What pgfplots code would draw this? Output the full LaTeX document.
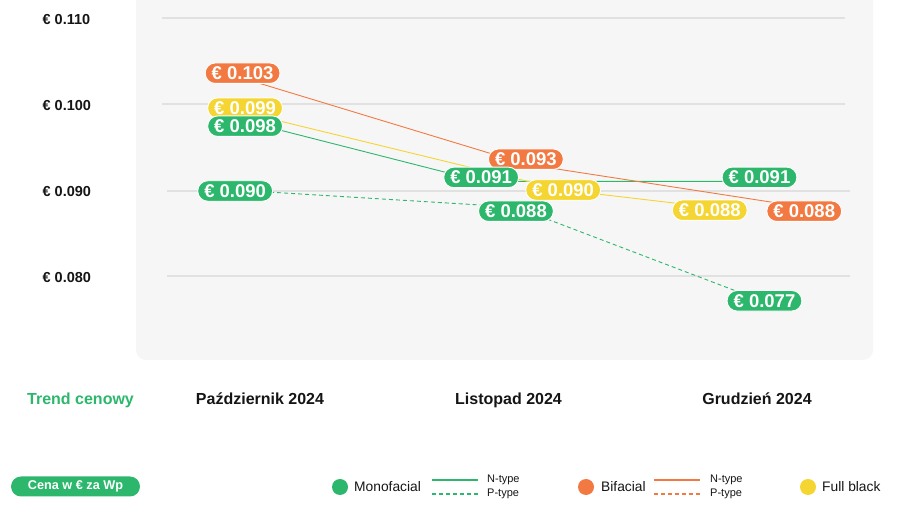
\documentclass[border=0pt]{standalone}
\usepackage{fontspec}
\setmainfont{Liberation Sans}
\usepackage{pgfplots}
\usepackage{pgfplotstable}
\pgfplotsset{compat=1.18}
\pgfplotsset{/pgf/number format/assume math mode=true}
\definecolor{cgreen}{HTML}{2CB76C}
\definecolor{corange}{HTML}{F27A42}
\definecolor{cyellow}{HTML}{F4D531}
\definecolor{cpanel}{HTML}{F6F6F6}
\definecolor{cgrid}{HTML}{E1E1E1}
\definecolor{ctext}{HTML}{151515}

% x: month index (0 = Oct, 1 = Nov, 2 = Dec) with the chart's own offsets; dy: label nudge in pt
\pgfplotstableread{
x y dy
-0.06 0.098 -5
0.89 0.091 4
2.01 0.091 4
}\monoN
\pgfplotstableread{
x y dy
-0.10 0.090 -1
1.03 0.088 -4
2.03 0.077 1
}\monoP
\pgfplotstableread{
x y dy
-0.07 0.103 5
1.07 0.093 5
2.19 0.088 -4
}\bifacial
\pgfplotstableread{
x y dy
-0.06 0.099 4.5
1.22 0.090 0
1.81 0.088 -3
}\fullblack

\tikzset{pill/.style={rounded corners=10pt, text=white, draw=white, line width=0.9pt,
  inner xsep=6.5pt, inner ysep=0pt,
  minimum height=20.5pt, text height=13pt, text depth=0pt, anchor=center,
  font=\fontsize{18.5}{20}\selectfont\bfseries}}

\begin{document}
\begin{tikzpicture}
\path[use as bounding box] (0,0) rectangle (900pt,527pt);
\begin{scope}[x=1pt,y=-1pt,yshift=527pt]
  \fill[cpanel, rounded corners=10pt] (136,-30) rectangle (873,360);
  \draw[cgrid, line width=1.6pt] (162,18) -- (845,18);
  \draw[cgrid, line width=1.6pt] (162,104) -- (845,104);
  \draw[cgrid, line width=1.6pt] (167,191) -- (850,191);
  \draw[cgrid, line width=1.6pt] (167,276) -- (850,276);
\end{scope}
\begin{axis}[
  at={(185.45pt,251pt)}, anchor=south west, scale only axis,
  width=646.1pt, height=258pt,
  xmin=-0.3, xmax=2.3, ymin=0.080, ymax=0.110,
  clip=false,
  axis line style={draw=none}, major tick length=0pt,
  xtick={0,1,2},
  xticklabels={Październik 2024, Listopad 2024, Grudzień 2024},
  xticklabel style={anchor=base, yshift=-129pt, inner sep=0pt, text=ctext,
    font=\fontsize{16}{19}\selectfont\bfseries},
  ytick={0.08,0.09,0.1,0.11},
  yticklabel={€ \pgfmathprintnumber[fixed,fixed zerofill,precision=3]{\tick}},
  yticklabel style={anchor=base west, xshift=-143pt, yshift=-6.5pt, inner sep=0pt, text=ctext,
    font=\fontsize{14.5}{17}\selectfont\bfseries},
  valuelabels/.style={draw=none, mark=none,
    visualization depends on={\thisrow{dy} \as \labdy},
    nodes near coords={€ \pgfmathprintnumber[fixed,fixed zerofill,precision=3]{\pgfplotspointmeta}},
    every node near coord/.append style={pill, fill=#1, yshift=\labdy pt}},
]
% lines
\addplot[cgreen, line width=0.9pt, mark=none] table[x=x,y=y] {\monoN};
\addplot[cgreen, line width=0.9pt, mark=none, dash pattern=on 4pt off 3pt] table[x=x,y=y] {\monoP};
\addplot[corange, line width=0.9pt, mark=none] table[x=x,y=y] {\bifacial};
\addplot[cyellow, line width=0.9pt, mark=none] table[x=x,y=y] {\fullblack};
% value labels
\addplot[valuelabels=cgreen] table[x=x,y=y] {\monoP};
\addplot[valuelabels=corange] table[x=x,y=y] {\bifacial};
\addplot[valuelabels=cyellow] table[x=x,y=y] {\fullblack};
\addplot[valuelabels=cgreen] table[x=x,y=y] {\monoN};
\end{axis}
\begin{scope}[x=1pt,y=-1pt,yshift=527pt]
  \node[anchor=base west, inner sep=0pt, text=cgreen, font=\fontsize{16}{19}\selectfont\bfseries] at (27,405) {Trend cenowy};
  % legend
  \node[fill=cgreen, rounded corners=10pt, text=white, minimum width=129pt, minimum height=20pt,
    inner sep=0pt, font=\fontsize{12.7}{14}\selectfont\bfseries] at (75.5,486.5) {Cena w € za Wp};
  \fill[cgreen] (340,487) circle (8pt);
  \node[anchor=base west, inner sep=0pt, text=ctext, font=\fontsize{13.8}{16}\selectfont] at (354,492) {Monofacial};
  \draw[cgreen, line width=1.4pt] (432,480) -- (478,480);
  \draw[cgreen, line width=1.4pt, dash pattern=on 4pt off 3pt] (432,494) -- (478,494);
  \node[anchor=west, inner sep=0pt, text=ctext, font=\fontsize{11}{12}\selectfont] at (487,480) {N-type};
  \node[anchor=west, inner sep=0pt, text=ctext, font=\fontsize{11}{12}\selectfont] at (487,494) {P-type};
  \fill[corange] (586,487) circle (8pt);
  \node[anchor=base west, inner sep=0pt, text=ctext, font=\fontsize{13.8}{16}\selectfont] at (601,492) {Bifacial};
  \draw[corange, line width=1.4pt] (654,480) -- (700,480);
  \draw[corange, line width=1.4pt, dash pattern=on 4pt off 3pt] (654,494) -- (700,494);
  \node[anchor=west, inner sep=0pt, text=ctext, font=\fontsize{11}{12}\selectfont] at (710,480) {N-type};
  \node[anchor=west, inner sep=0pt, text=ctext, font=\fontsize{11}{12}\selectfont] at (710,494) {P-type};
  \fill[cyellow] (808,487) circle (8pt);
  \node[anchor=base west, inner sep=0pt, text=ctext, font=\fontsize{13.8}{16}\selectfont] at (822,492) {Full black};
\end{scope}
\end{tikzpicture}
\end{document}
